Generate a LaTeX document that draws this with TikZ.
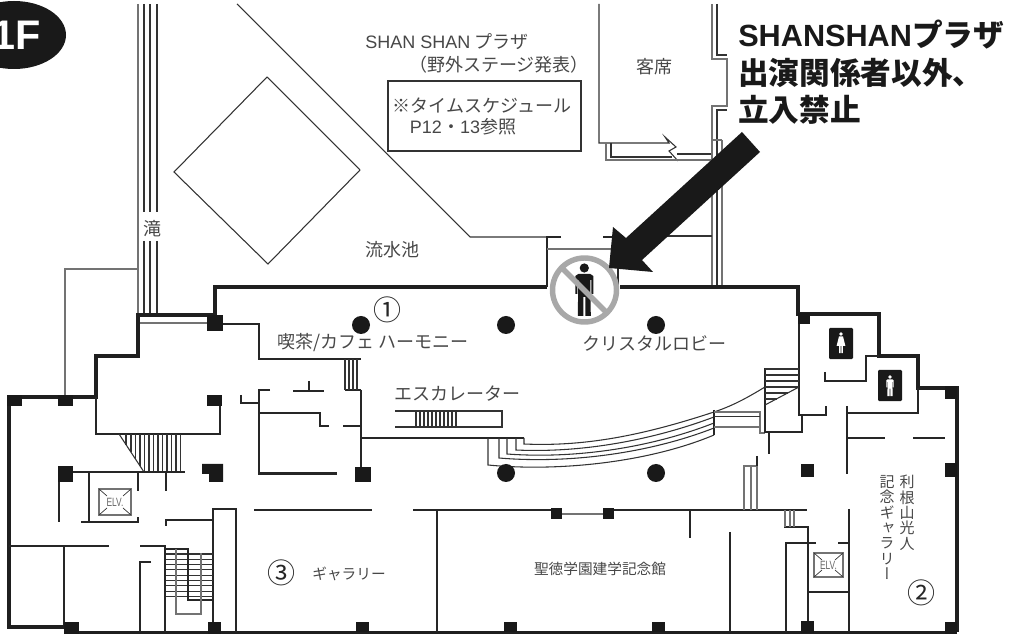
\documentclass[tikz,border=0pt]{standalone}
\usetikzlibrary{shapes.geometric}
\usepackage{fontspec}
\setmainfont{Liberation Sans}
\newfontfamily\jpfont{Noto Sans CJK JP}
\newfontfamily\jpvert[RawFeature=+vert]{Noto Sans CJK JP}
\definecolor{inkgrey}{gray}{0.28}
\definecolor{ringgrey}{gray}{0.66}
\tikzset{
	wall/.style={line width=2.6pt,black!88,line join=miter},
	midwall/.style={line width=1.6pt,black!85},
	thinline/.style={line width=0.8pt,black!80},
	greyline/.style={line width=0.8pt,black!55},
	roomlabel/.style={inner sep=0pt,text=inkgrey,font=\jpfont\fontsize{13.5}{16}\selectfont},
	smalllabel/.style={inner sep=0pt,text=inkgrey,font=\jpfont\fontsize{11}{13}\selectfont},
	vlabel/.style={inner sep=0pt,anchor=north,align=center,text=inkgrey,font=\jpvert\fontsize{11.25}{11.5}\selectfont},
	headlabel/.style={inner sep=0pt,anchor=base west,text=black!90,font=\jpfont\bfseries\fontsize{23}{26}\selectfont},
	circlabel/.style={inner sep=0pt,text=black!85,font=\jpfont\fontsize{21}{24}\selectfont},
	elvlabel/.style={inner sep=0pt,text=black!60,font=\fontsize{9}{10}\selectfont,xscale=0.7,transform shape}
}
\newcommand{\pillar}[5]{\node[fill=black!90,inner sep=0pt,minimum width=#3*0.75pt,minimum height=#4*0.75pt] (#5) at (#1,#2) {};}
\newcommand{\roundpillar}[3]{\node[circle,fill=black!90,inner sep=0pt,minimum size=13.5pt] (#3) at (#1,#2) {};}
\newcommand{\elvbox}[5]{
	\draw[greyline,line width=1pt] (#1,#2) rectangle (#3,#4);
	\draw[thinline,line width=0.5pt] (#1,#2) -- ++(8,7) (#3,#2) -- ++(-8,7) (#1,#4) -- ++(8,-7) (#3,#4) -- ++(-8,-7);
	\node[elvlabel] (#5) at ({(#1+#3)/2},{(#2+#4)/2}) {ELV.};
}
\newcommand{\manicon}[4]{\begin{scope}[shift={(#1,#2)},scale=#3]
	\fill[#4] (0,0) circle (4.6);
	\fill[#4] (-9,8) -- (-6,6) -- (6,6) -- (9,8) -- (9,26) -- (7,26) -- (7,12) -- (6,12) -- (6.5,48) -- (1,48) -- (1,29) -- (-1,29) -- (-1,48) -- (-6.5,48) -- (-6,12) -- (-7,12) -- (-7,26) -- (-9,26) -- cycle;
\end{scope}}
\newcommand{\ladyicon}[4]{\begin{scope}[shift={(#1,#2)},scale=#3]
	\fill[#4] (0,0) circle (4.6);
	\fill[#4] (-5,6) -- (5,6) -- (11,30) -- (4.5,30) -- (4.5,48) -- (0.8,48) -- (0.8,30) -- (-0.8,30) -- (-0.8,48) -- (-4.5,48) -- (-4.5,30) -- (-11,30) -- cycle;
\end{scope}}
\begin{document}
\begin{tikzpicture}[x=0.75pt,y=-0.75pt]
	\useasboundingbox (0,0) rectangle (1026,634);
	\node[ellipse,fill=black!90,inner sep=0pt,minimum width=78pt,minimum height=51pt] (badge) at (14,35) {};
	\node[inner sep=0pt,anchor=east,text=white,font=\bfseries\fontsize{31}{34}\selectfont] (floorname) at (41,35) {1F};

	\draw[greyline] (138,4) -- (138,313);
	\foreach \x in {144,150,157} {
		\draw[thinline] (\x,4) -- (\x,212) (\x,241) -- (\x,313);
	}
	\draw[greyline] (65,397) -- (65,269) -- (138,269);
	\draw[thinline] (237,4) -- (470,237) -- (547,237);
	\draw[thinline] (267,77) -- (360,170) (267,77) -- (174,172) -- (268,264) -- (360,170);
	\draw[thinline,line width=1pt] (388,81) rectangle (581,151);
	\draw[thinline] (599,4) -- (599,143) -- (669,143) -- (665,137) -- (676,147) -- (669,151) -- (678,161);
	\draw[greyline,line width=1pt] (606,143) -- (606,160) -- (712,160);
	\draw[thinline] (611,143) -- (611,157) -- (672,157);
	\draw[thinline] (677,154) -- (712,154);
	\draw[greyline,line width=1pt] (712,4) -- (712,59) -- (727,59) -- (727,106) -- (712,106) -- (712,285);
	\draw[thinline] (717,4) -- (717,55) -- (727,55) (727,110) -- (717,110) -- (717,285);
	\draw[greyline] (722,140) -- (722,285) (712,140) -- (722,140);
	\draw[thinline] (667,236) -- (712,236);

	\draw[wall] (547,287) -- (215,287) -- (215,315) -- (138,315) -- (138,356) -- (96,356) -- (96,397) -- (9,397) -- (9,627) -- (65,627);
	\draw[wall] (620,287) -- (798,287) -- (798,314) -- (879,314) -- (879,356) -- (918,356) -- (918,388) -- (957,388) -- (957,632);
	\draw[wall,line width=1.6pt] (65,632.5) -- (957,632.5);
	\draw[midwall] (561,237) -- (547,237) -- (547,287) (603,237) -- (618,237) -- (618,287);
	\draw[greyline,line width=1pt] (547,249) -- (615,249);

	\draw[greyline,line width=1pt] (140,323) -- (207,323);
	\draw[midwall] (223,324) -- (259,324) -- (259,359) -- (361,359);
	\draw[midwall] (361,390) -- (361,467) (345,390) -- (361,390);
	\draw[thinline] (345,359) -- (345,390);
	\foreach \x in {349,353,357} {
		\draw[thinline] (\x,359) -- (\x,390);
	}
	\draw[midwall] (270,390) -- (259,390) -- (259,473.5) -- (337,473.5);
	\draw[midwall] (241,395) -- (241,403) -- (259,403);
	\draw[midwall] (259,413) -- (320,413) -- (320,426) -- (329,426) (343,426) -- (361,426);
	\draw[midwall] (293,391) -- (324,391) (309,381) -- (309,391);
	\draw[midwall] (361,438) -- (524,438);

	\draw[midwall] (96,397) -- (96,434) -- (220,434) -- (220,402);
	\draw[thinline] (119,434) -- (144,472);
	\foreach \x/\b in {126/445,131/452,135.5/459,140/466} {
		\draw[thinline] (\x,434) -- (\x,\b);
	}
	\foreach \x in {144.5,149,...,184} {
		\draw[thinline] (\x,434) -- (\x,472);
	}
	\draw[midwall] (73,472) -- (185,472);
	\draw[midwall] (59,482) -- (59,522) (89,472) -- (89,522) (81,522) -- (138,522) -- (138,517);
	\draw[midwall] (138,472) -- (138,491) (166,472) -- (166,491);
	\elvbox{99}{489}{131}{515}{elvleft}
	\fill[black!90] (202,464) -- (223,464) -- (223,482) -- (209,482) -- (209,474) -- (202,474) -- cycle;

	\draw[midwall] (166,526) -- (166,520) -- (213,520);
	\draw[midwall] (213,632) -- (213,509) -- (236,509) -- (236,632);
	\draw[midwall] (254,510) -- (372,510) (413,510) -- (551,510) (614,510) -- (807,510);
	\draw[greyline,line width=1pt] (562,514) -- (603,514);
	\draw[midwall] (437,510) -- (437,632) (690,510) -- (690,538) (730,532) -- (730,632);
	\draw[midwall] (9,546) -- (109,546) (64,546) -- (64,625) (140,546) -- (165,546) -- (165,632);
	\draw[midwall] (151,562) -- (140,562) -- (140,632);
	\foreach \y in {554,559.3,...,601} {
		\draw[thinline] (166,\y) -- (213,\y);
	}
	\draw[midwall] (166,549) -- (188,549) -- (188,600) -- (213,600);
	\draw[greyline,line width=1pt] (176,549) -- (176,614) -- (201,614) -- (201,553);

	\draw[thinline,line width=1pt] (395,411) -- (502,411) -- (502,427) -- (395,427);
	\foreach \x in {416,420,...,456} {
		\draw[thinline] (\x,411) -- (\x,427);
	}
	\draw[thinline] (488,438) -- (488,465) .. controls (560,472) and (650,462) .. (714,435);
	\draw[thinline] (499,438) -- (499,458) .. controls (570,464) and (650,453) .. (714,428);
	\draw[thinline] (507,438) -- (507,454) .. controls (575,459) and (650,448) .. (714,423);
	\draw[thinline] (516,438) -- (516,450) .. controls (580,453) and (650,441) .. (714,417);
	\draw[thinline] (524,438) -- (524,444) .. controls (590,447) and (650,433) .. (714,412) .. controls (735,405) and (750,396) .. (765,387);
	\draw[midwall] (714,410) -- (714,435);
	\draw[greyline,line width=1pt] (714,412) -- (760,412) (714,427) -- (760,427) (760,411) -- (760,433) -- (765,433);
	\draw[thinline] (714,416.5) -- (760,416.5);

	\draw[midwall] (799,314) -- (799,415) -- (826,415) -- (826,406);
	\draw[midwall] (802,415) -- (802,432) -- (765,432) -- (765,368);
	\draw[midwall] (769,432) -- (769,454);
	\draw[thinline] (765,405) -- (799,387);
	\foreach \y/\r in {369/799,375/799,381/799,387/799,393/788,399/777} {
		\draw[thinline] (765,\y) -- (\r,\y);
	}
	\draw[midwall] (825,372) -- (825,381) -- (866,381) -- (866,356) -- (879,356);
	\draw[midwall] (847,406) -- (847,474) (847,413) -- (918,413) -- (918,388);
	\draw[midwall] (847,438) -- (885,438) (913,438) -- (945,438);
	\draw[midwall] (784,527) -- (808,527) -- (808,632) (816,543) -- (786,543) -- (786,632) (838,543) -- (849,543);
	\draw[midwall] (849,509) -- (849,632) (808,592) -- (849,592);
	\elvbox{814}{553}{843}{577}{elvright}
	\foreach \x in {785,790,794} {
		\draw[greyline,line width=1pt] (\x,510) -- (\x,527);
	}
	\draw[greyline,line width=1pt] (744,510) -- (744,466) -- (757,466) -- (757,510) (751,466) -- (751,510);
	\draw[midwall] (757,456) -- (757,466);

	\pillar{214.5}{323}{16}{16}{pa}
	\pillar{14.5}{400.5}{15}{11}{pb}
	\pillar{65.5}{400.5}{15}{11}{pc}
	\pillar{214.5}{400.5}{15}{11}{pd}
	\pillar{65.5}{474}{15}{16}{pe}
	\pillar{363}{474.5}{16}{15}{pf}
	\pillar{71.5}{628}{15}{12}{pg}
	\pillar{214.5}{628}{13}{12}{ph}
	\pillar{362.5}{627}{13}{10}{pi}
	\pillar{510.5}{627}{13}{10}{pj}
	\pillar{658.5}{627}{13}{10}{pk}
	\pillar{807.5}{627}{13}{12}{pl}
	\pillar{951}{628}{12}{12}{pm}
	\pillar{556.5}{514}{11}{11}{pn}
	\pillar{608.5}{514}{11}{11}{po}
	\pillar{804}{319}{12}{11}{pp}
	\pillar{951}{393}{12}{13}{pq}
	\pillar{951}{470}{12}{14}{pr}
	\pillar{807.5}{470.5}{13}{13}{ps}
	\roundpillar{361}{325}{ca} \roundpillar{506}{325}{cb} \roundpillar{656}{325}{cc}
	\roundpillar{506}{473}{cd} \roundpillar{656}{473}{ce}

	\node[fill=black!90,rounded corners=1pt,inner sep=0pt,minimum width=18pt,minimum height=23.5pt] (ladybox) at (841,343.5) {};
	\ladyicon{841}{334}{0.4}{white}
	\node[fill=black!90,rounded corners=1pt,inner sep=0pt,minimum width=18pt,minimum height=23.5pt] (manbox) at (890,385.5) {};
	\manicon{890}{377}{0.4}{white}

	\draw[line width=4.1pt,ringgrey,fill=white] (584.5,290) circle (32);
	\manicon{584.3}{268}{1}{black!90}
	\draw[line width=4.1pt,ringgrey] (561,267) -- (607,313);
	\fill[black!90] (742,132) -- (760,152) -- (642,260) -- (653,272) -- (609,268) -- (613,227) -- (626,238) -- cycle;

	\node[roomlabel] (plazaname) at (447,42) {{\rmfamily SHAN SHAN} プラザ};
	\node[roomlabel] (plazanote) at (499,65) {（野外ステージ発表）};
	\node[roomlabel] (schedule) at (482,106) {※タイムスケジュール};
	\node[roomlabel] (pagenote) at (463,127) {{\rmfamily P12}・{\rmfamily 13}参照};
	\node[roomlabel] (seats) at (654,67) {客席};
	\node[roomlabel] (fall) at (152,229) {滝};
	\node[roomlabel] (pond) at (392,250) {流水池};
	\node[roomlabel] (cafe) at (373,343) {喫茶/カフェ ハーモニー};
	\node[roomlabel] (lobby) at (654,343) {クリスタルロビー};
	\node[roomlabel] (escalator) at (457,394) {エスカレーター};
	\node[smalllabel] (gallerya) at (349,574) {ギャラリー};
	\node[smalllabel] (memorial) at (600,569) {聖徳学園建学記念館};
	\node[vlabel] (galleryb) at (907,475) {利\\根\\山\\光\\人};
	\node[vlabel] (galleryc) at (887,475) {記\\念\\ギ\\ャ\\ラ\\リ\\ー};
	\node[circlabel] (numa) at (387,310) {①};
	\node[circlabel] (numb) at (921,593) {②};
	\node[circlabel] (numc) at (281,573) {③};

	\node[headlabel] (heada) at (738,47) {{\rmfamily SHANSHAN}プラザ};
	\node[headlabel] (headb) at (738,85) {出演関係者以外、};
	\node[headlabel] (headc) at (738,122) {立入禁止};
\end{tikzpicture}
\end{document}
